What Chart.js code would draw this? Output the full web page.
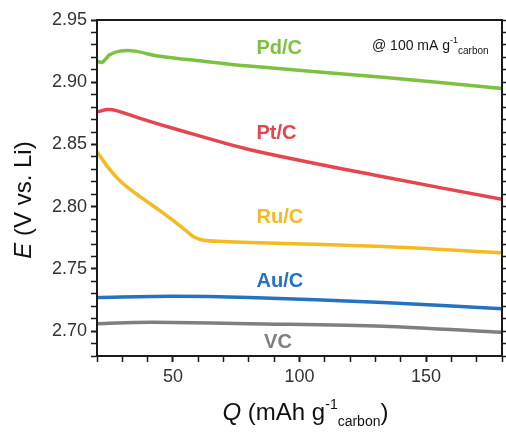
<!DOCTYPE html>
<html>
<head>
<meta charset="utf-8">
<script src="https://cdn.jsdelivr.net/npm/chart.js@4"></script>
<style>
  body { margin: 0; background: #fff; }
  #wrap { width: 506px; height: 435px; }
</style>
</head>
<body>
<div id="wrap"><canvas id="chart"></canvas></div>
<script>
// Series: Q (mAh/g carbon) and E (V vs. Li)
const seriesNames = ['Pd/C', 'Pt/C', 'Ru/C', 'Au/C', 'VC'];
const seriesColors = ['#7dc143', '#e5454f', '#f5b921', '#2472c0', '#7f7f7f'];

const pdQ = [20, 22, 25, 29, 35, 44, 57, 80, 133, 180];
const pdE = [2.917, 2.916, 2.922, 2.925, 2.925, 2.921, 2.918, 2.913, 2.904, 2.895];

const ptQ = [20, 24, 28, 37, 50, 80, 133, 180];
const ptE = [2.876, 2.878, 2.877, 2.871, 2.863, 2.846, 2.824, 2.806];

const ruQ = [20, 25, 30, 37, 44, 50, 55, 58, 62, 70, 84, 133, 180];
const ruE = [2.844, 2.830, 2.819, 2.808, 2.798, 2.789, 2.781, 2.776, 2.773, 2.772, 2.771, 2.768, 2.763];

const auQ = [20, 50, 80, 133, 180];
const auE = [2.727, 2.728, 2.727, 2.723, 2.718];

const vcQ = [20, 35, 50, 80, 133, 180];
const vcE = [2.706, 2.707, 2.707, 2.706, 2.704, 2.699];

const xMajorTicks = [50, 100, 150];
const yMajorTicks = [2.70, 2.75, 2.80, 2.85, 2.90, 2.95];

// where the in-plot labels sit (data coordinates)
const labelAnchors = [[83, 2.927], [83, 2.859], [83, 2.791], [83, 2.740], [86, 2.691]];

const allQ = [pdQ, ptQ, ruQ, auQ, vcQ];
const allE = [pdE, ptE, ruE, auE, vcE];

const FONT = '"Liberation Sans", Arial, sans-serif';

const datasets = seriesNames.map(function (name, i) {
  return {
    label: name,
    data: allQ[i].map((q, j) => ({ x: q, y: allE[i][j] })),
    borderColor: seriesColors[i],
    borderWidth: 3.5,
    pointRadius: 0,
    tension: 0.3,
    fill: false
  };
});

// draw a run of text pieces, some italic / superscript / subscript
function drawRuns(ctx, runs, x, y) {
  let cx = x;
  runs.forEach(function (r) {
    ctx.font = r.font;
    ctx.fillText(r.t, cx, y + (r.dy || 0));
    cx += ctx.measureText(r.t).width;
  });
}
function runsWidth(ctx, runs) {
  let w = 0;
  runs.forEach(function (r) { ctx.font = r.font; w += ctx.measureText(r.t).width; });
  return w;
}

const textPlugin = {
  id: 'texts',
  afterDraw(chart) {
    const ctx = chart.ctx;
    const area = chart.chartArea;
    const xs = chart.scales.x, ys = chart.scales.y;
    ctx.save();

    // frame
    ctx.strokeStyle = '#1a1a1a';
    ctx.lineWidth = 2;
    ctx.strokeRect(area.left, area.top, area.right - area.left, area.bottom - area.top);

    // series labels
    ctx.textBaseline = 'middle';
    ctx.textAlign = 'left';
    ctx.font = 'bold 20px ' + FONT;
    seriesNames.forEach(function (name, i) {
      ctx.fillStyle = seriesColors[i];
      ctx.fillText(name, xs.getPixelForValue(labelAnchors[i][0]), ys.getPixelForValue(labelAnchors[i][1]));
    });

    // current density note
    ctx.fillStyle = '#151515';
    ctx.textBaseline = 'alphabetic';
    drawRuns(ctx, [
      { t: '@ 100 mA g', font: '14px ' + FONT },
      { t: '-1', font: '9px ' + FONT, dy: -7 },
      { t: 'carbon', font: '10px ' + FONT, dy: 4 }
    ], area.right - 130, area.top + 30);

    // x title
    ctx.fillStyle = '#111';
    const xRuns = [
      { t: 'Q', font: 'italic 24px ' + FONT },
      { t: ' (mAh g', font: '24px ' + FONT },
      { t: '-1', font: '14px ' + FONT, dy: -11 },
      { t: 'carbon', font: '14px ' + FONT, dy: 6 },
      { t: ')', font: '24px ' + FONT }
    ];
    const xw = runsWidth(ctx, xRuns);
    drawRuns(ctx, xRuns, (area.left + area.right) / 2 + 6 - xw / 2, 420);

    // y title
    const yRuns = [
      { t: 'E', font: 'italic 24px ' + FONT },
      { t: ' (V vs. Li)', font: '24px ' + FONT }
    ];
    const yw = runsWidth(ctx, yRuns);
    ctx.translate(31, 200);
    ctx.rotate(-Math.PI / 2);
    drawRuns(ctx, yRuns, -yw / 2, 0);

    ctx.restore();
  }
};

function isMajor(list, v) {
  return list.some(m => Math.abs(m - v) < 1e-6);
}

new Chart(document.getElementById('chart'), {
  type: 'line',
  data: { datasets: datasets },
  options: {
    responsive: true,
    maintainAspectRatio: false,
    animation: false,
    layout: { padding: { top: 20, left: 0, right: 0, bottom: 0 } },
    plugins: {
      legend: { display: false },
      tooltip: { enabled: false }
    },
    scales: {
      x: {
        type: 'linear',
        min: 20,
        max: 180,
        ticks: {
          stepSize: 10,
          autoSkip: false,
          maxRotation: 0,
          padding: 4,
          color: '#333',
          font: { size: 18, family: FONT },
          callback: v => isMajor(xMajorTicks, v) ? String(v) : ''
        },
        grid: {
          drawOnChartArea: false,
          tickLength: 6,
          tickColor: '#1a1a1a',
          tickWidth: c => isMajor(xMajorTicks, c.tick.value) ? 2 : 1.5
        },
        border: { color: '#1a1a1a', width: 2 },
        afterFit: s => { s.height = 79; }
      },
      y: {
        min: 2.68,
        max: 2.95,
        ticks: {
          stepSize: 0.01,
          autoSkip: false,
          padding: 4,
          color: '#333',
          font: { size: 18, family: FONT },
          callback: v => isMajor(yMajorTicks, v) ? v.toFixed(2) : ''
        },
        grid: {
          drawOnChartArea: false,
          tickLength: 6,
          tickColor: '#1a1a1a',
          tickWidth: c => isMajor(yMajorTicks, c.tick.value) ? 2 : 1.5
        },
        border: { color: '#1a1a1a', width: 2 },
        afterFit: s => { s.width = 97; }
      },
      y2: {
        position: 'right',
        min: 2.68,
        max: 2.95,
        ticks: { stepSize: 0.01, autoSkip: false, display: false },
        grid: {
          drawOnChartArea: false,
          tickLength: 4,
          tickColor: '#1a1a1a',
          tickWidth: 1.5
        },
        border: { color: '#1a1a1a', width: 2 },
        afterFit: s => { s.width = 4; }
      }
    }
  },
  plugins: [textPlugin]
});
</script>
</body>
</html>
